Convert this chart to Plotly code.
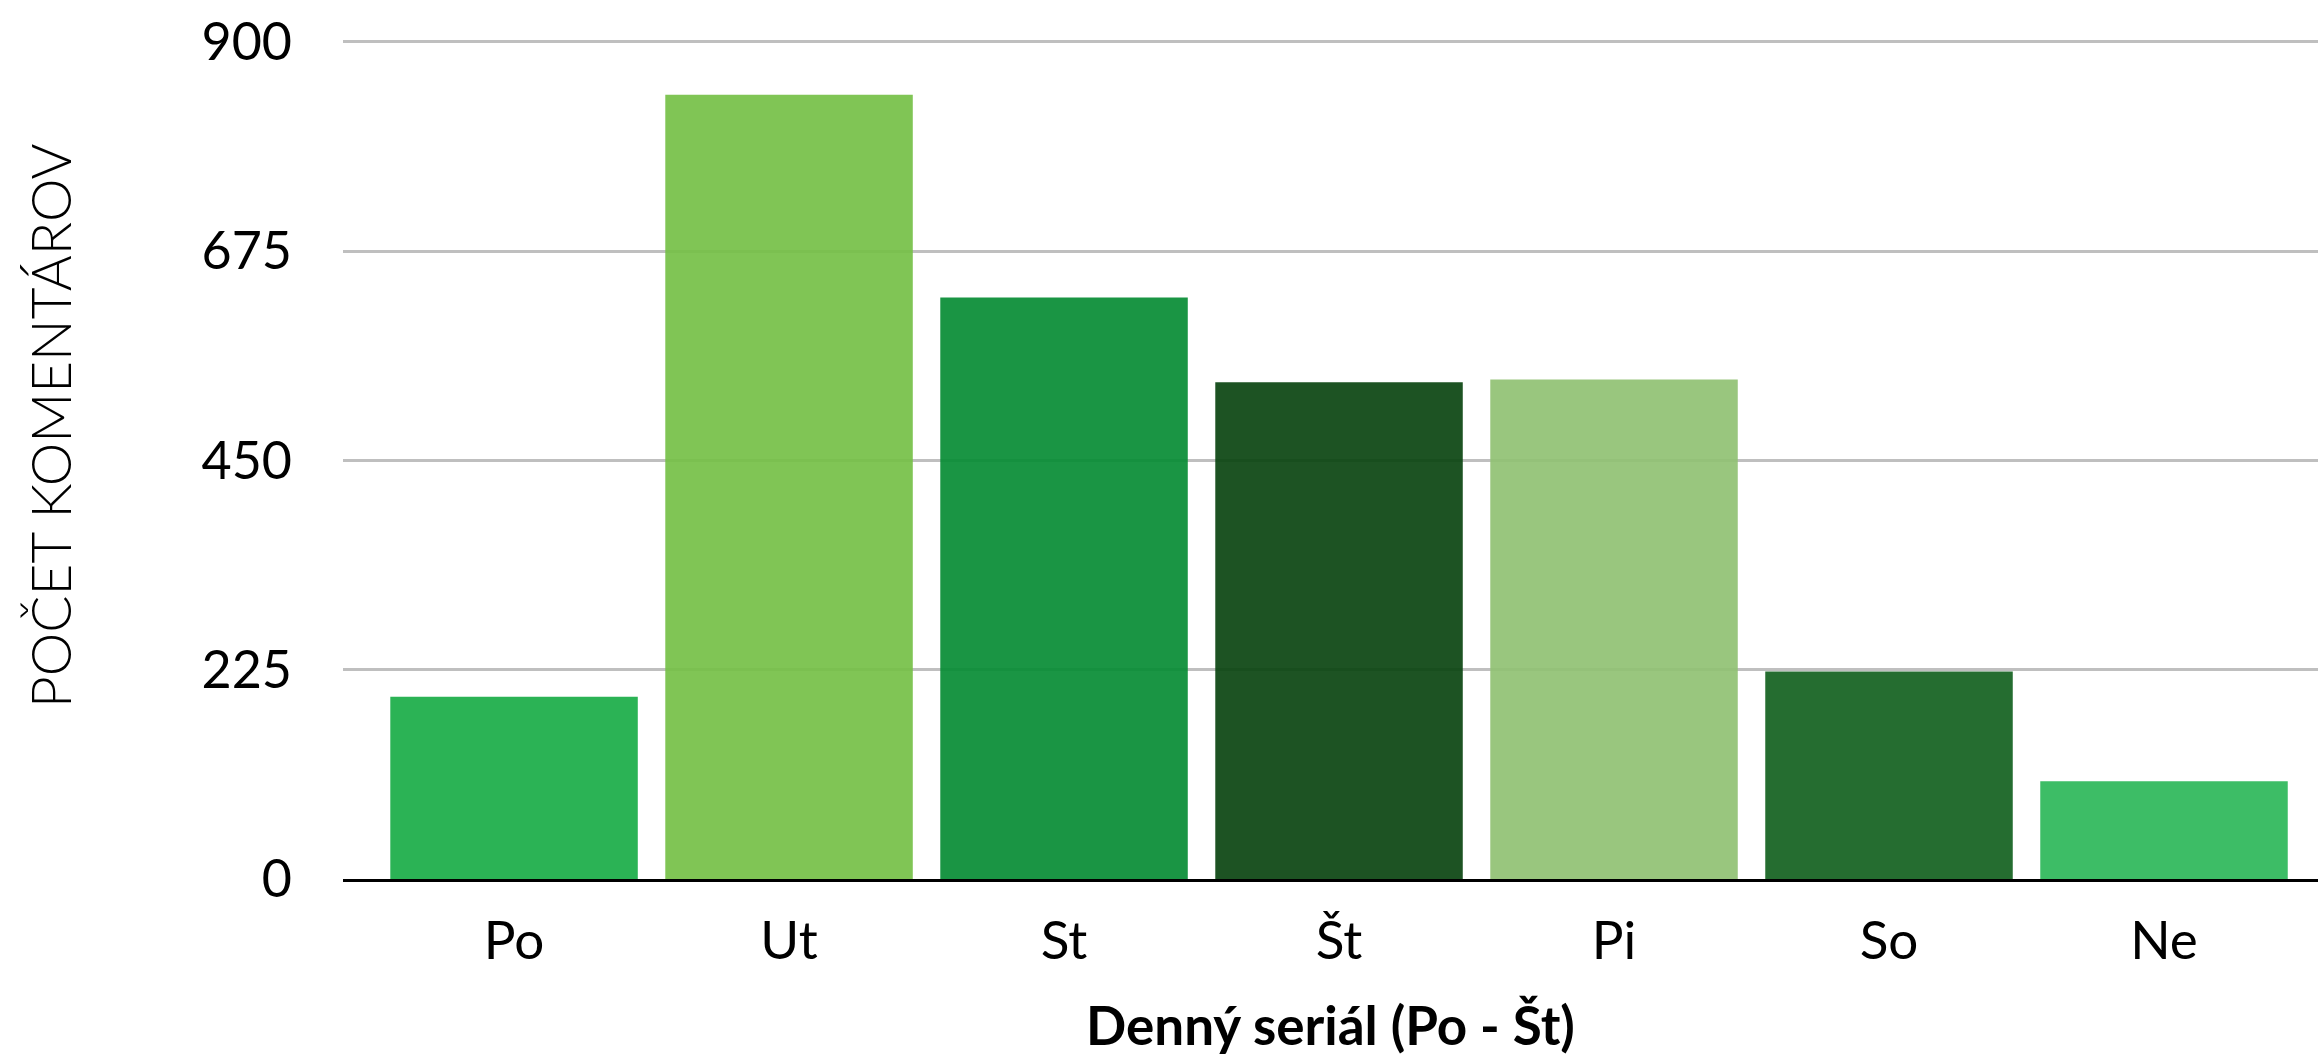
import plotly.graph_objects as go

categories = ["Po", "Ut", "St", "Št", "Pi", "So", "Ne"]
values = [196, 843, 625, 534, 537, 223, 105]
observed_colors = ["#2bb355", "#80c555", "#1b9544", "#1e5323", "#99c67e", "#256e30", "#3ebd66"]
y_ticks = [0, 225, 450, 675, 900]
y_title = "POČET KOMENTÁROV"
x_title = "Denný seriál (Po - Št)"

ALPHA = 0.92
W, H = 2318, 1056
ML, MR, MT, MB = 343, 0, 39, 177


def translucent(hex_color, a=ALPHA):
    h = hex_color.lstrip("#")
    rgb = [int(h[i:i + 2], 16) for i in (0, 2, 4)]
    base = [max(0, min(255, round((c - (1 - a) * 255) / a))) for c in rgb]
    return f"rgba({base[0]},{base[1]},{base[2]},{a})"


fig = go.Figure(
    go.Bar(
        x=categories,
        y=values,
        marker=dict(color=[translucent(c) for c in observed_colors], line=dict(width=0)),
        hoverinfo="x+y",
    )
)

plot_w = W - ML - MR
plot_h = H - MT - MB

fig.update_layout(
    width=W,
    height=H,
    margin=dict(l=ML, r=MR, t=MT, b=MB, autoexpand=False),
    paper_bgcolor="white",
    plot_bgcolor="white",
    bargap=0.1,
    showlegend=False,
    font=dict(family="Lato", color="black", size=52),
    annotations=[
        dict(
            text=y_title,
            textangle=-90,
            xref="paper",
            yref="paper",
            x=(50 - ML) / plot_w,
            y=(H - MB - 426) / plot_h,
            xanchor="center",
            yanchor="middle",
            showarrow=False,
            font=dict(family="Lato", size=55, color="black", weight=300),
        )
    ],
)

fig.update_xaxes(
    type="category",
    range=[-0.622, 6.56],
    automargin=False,
    showgrid=False,
    showline=True,
    linecolor="black",
    linewidth=3,
    ticks="",
    ticklabelstandoff=13,
    tickfont=dict(family="Lato", size=53, color="black"),
    title=dict(
        text=x_title,
        font=dict(family="Lato", size=53, color="black", weight="bold"),
        standoff=49,
    ),
)

fig.update_yaxes(
    range=[0, 903],
    automargin=False,
    tickvals=y_ticks,
    ticktext=[str(v) for v in y_ticks],
    showgrid=True,
    gridcolor="#bfbfbf",
    gridwidth=2.5,
    zeroline=False,
    showline=False,
    ticks="",
    ticklabelstandoff=50,
    tickfont=dict(family="Lato", size=52, color="black"),
)

fig.write_html(
    "out.html",
    config={"displayModeBar": False},
    post_script="document.body.style.margin='0';document.body.style.overflow='hidden';",
)
